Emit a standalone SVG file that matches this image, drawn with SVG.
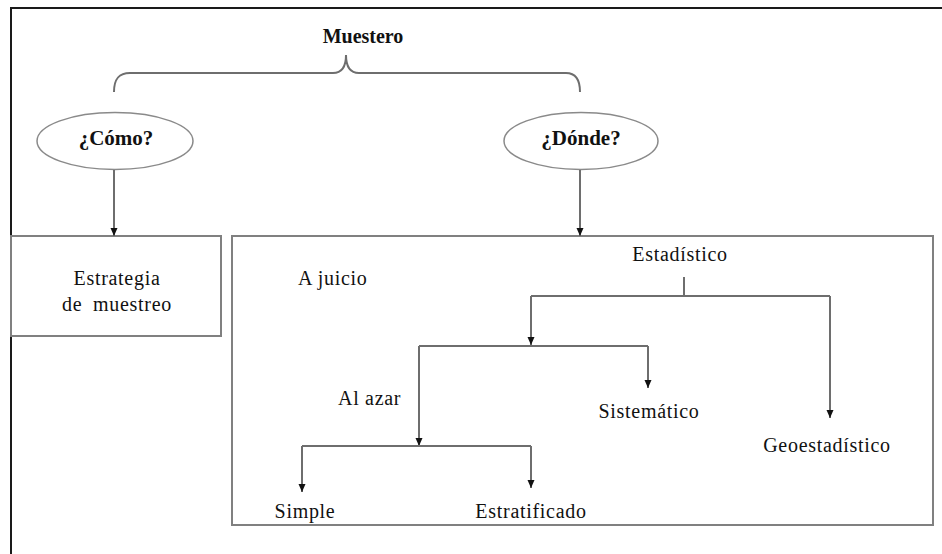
<svg xmlns="http://www.w3.org/2000/svg" width="942" height="554" viewBox="0 0 942 554">
<style>
.frame{fill:none;stroke:#1a1a1a;stroke-width:2}
.box{fill:none;stroke:#808080;stroke-width:2}
.ell{fill:#fff;stroke:#8a8a8a;stroke-width:1.5}
.con{fill:none;stroke:#6e6e6e;stroke-width:2}
.b{font-family:"Liberation Serif","Times New Roman",serif;font-weight:bold;fill:#111;text-anchor:middle}
.t{font-family:"Liberation Serif","Times New Roman",serif;font-size:20px;letter-spacing:0.7px;fill:#111}
.m{text-anchor:middle}
</style>
<defs>
<marker id="ar" markerUnits="userSpaceOnUse" markerWidth="10" markerHeight="10" viewBox="0 0 10 10" refX="9" refY="5" orient="auto">
<path d="M1,1.5 L9,5 L1,8.5 Z" fill="#111"/>
</marker>
</defs>
<rect width="942" height="554" fill="#fff"/>
<path class="frame" d="M11,554 V8 H942"/>
<g id="muestero">
<text class="b" x="363" y="43" font-size="20">Muestero</text>
<path class="con" stroke-width="1.6" d="M114,92 C114,80 118,73 130,73 L333,73 C342,73 346,66 346,55 C346,66 350,73 359,73 L566,73 C576,73 580,80 580,92"/>
</g>
<g id="como">
<ellipse class="ell" cx="115" cy="141" rx="78" ry="28.5"/>
<text class="b" x="116" y="145" font-size="21">¿Cómo?</text>
</g>
<g id="donde">
<ellipse class="ell" cx="581" cy="141" rx="77" ry="28.5"/>
<text class="b" x="581" y="145" font-size="21">¿Dónde?</text>
</g>
<g id="estrategia">
<rect class="box" x="11" y="236" width="210" height="100"/>
<text class="t m" x="117" y="285" letter-spacing="0.9">Estrategia</text>
<text class="t m" x="117" y="311" word-spacing="5">de muestreo</text>
</g>
<g id="donde-box">
<rect class="box" x="232" y="236" width="701" height="289"/>
</g>
<g id="a-juicio"><text class="t" x="298" y="285" letter-spacing="0.3">A juicio</text></g>
<g id="estadistico"><text class="t m" x="680" y="261">Estadístico</text></g>
<g id="al-azar"><text class="t" x="338" y="405" letter-spacing="0.6">Al azar</text></g>
<g id="sistematico"><text class="t m" x="649" y="418">Sistemático</text></g>
<g id="geoestadistico"><text class="t m" x="827" y="452" letter-spacing="0.9">Geoestadístico</text></g>
<g id="simple"><text class="t m" x="305" y="518" letter-spacing="0.6">Simple</text></g>
<g id="estratificado"><text class="t m" x="531" y="518" letter-spacing="0.5">Estratificado</text></g>
<g id="connectors">
<path class="con" d="M114,170 V236" marker-end="url(#ar)"/>
<path class="con" d="M580,170 V236" marker-end="url(#ar)"/>
<path class="con" d="M684,277 V296"/>
<path class="con" d="M531,296 H830"/>
<path class="con" d="M531,296 V345" marker-end="url(#ar)"/>
<path class="con" d="M830,296 V418" marker-end="url(#ar)"/>
<path class="con" d="M419,346 H648"/>
<path class="con" d="M648,346 V388" marker-end="url(#ar)"/>
<path class="con" d="M419,346 V446" marker-end="url(#ar)"/>
<path class="con" d="M302,446 H531"/>
<path class="con" d="M302,446 V492" marker-end="url(#ar)"/>
<path class="con" d="M531,446 V488" marker-end="url(#ar)"/>
</g>
</svg>
